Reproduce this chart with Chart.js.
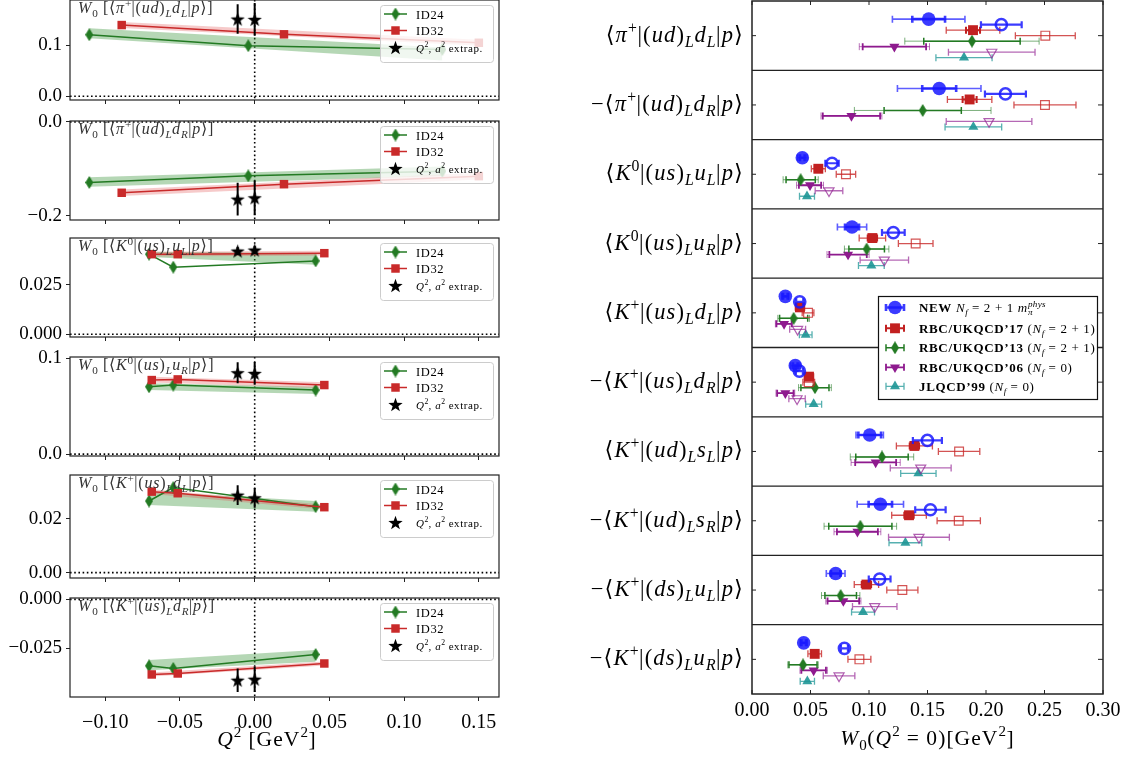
<!DOCTYPE html>
<html>
<head>
<meta charset="utf-8">
<script src="https://cdn.jsdelivr.net/npm/chart.js@4.4.0/dist/chart.umd.min.js"></script>
<style>
  html, body { margin: 0; padding: 0; background: #fff; }
  #fig { position: relative; width: 1133px; height: 757px; overflow: hidden; }
  canvas { position: absolute; }
</style>
</head>
<body>
<div id="fig"></div>
<script>
const SERIF = '"Liberation Serif", "DejaVu Serif", serif';

// ---------- left column: W0 vs Q^2, one panel per matrix element ----------
const panelTitles = [
  'W_0 [⟨π^+|(ud)_Ld_L|p⟩]',
  'W_0 [⟨π^+|(ud)_Ld_R|p⟩]',
  'W_0 [⟨K^0|(us)_Lu_L|p⟩]',
  'W_0 [⟨K^0|(us)_Lu_R|p⟩]',
  'W_0 [⟨K^+|(us)_Ld_L|p⟩]',
  'W_0 [⟨K^+|(us)_Ld_R|p⟩]'
];
const q2Range = [-0.1236, 0.1635];
const q2Ticks = [-0.10, -0.05, 0.00, 0.05, 0.10, 0.15];
const q2TickLabels = ['−0.10', '−0.05', '0.00', '0.05', '0.10', '0.15'];
const panelYRange = [[-0.0073, 0.189], [-0.209, 0.002], [-0.0014, 0.0488], [-0.002, 0.1014], [-0.002, 0.0364], [-0.0498, 0.0007]];
const panelYTicks = [[0, 0.1], [-0.2, 0], [0, 0.025], [0, 0.1], [0, 0.02], [-0.025, 0]];
const panelYTickLabels = [['0.0', '0.1'], ['−0.2', '0.0'], ['0.000', '0.025'], ['0.0', '0.1'], ['0.00', '0.02'], ['−0.025', '0.000']];

const id24Q2 = [
  [-0.1107, -0.0043, 0.1256], [-0.1107, -0.0043, 0.1256],
  [-0.0707, -0.0545, 0.0408], [-0.0707, -0.0545, 0.0408],
  [-0.0707, -0.0545, 0.0408], [-0.0707, -0.0545, 0.0408]
];
const id24W0 = [
  [0.1208, 0.0992, 0.092], [-0.129, -0.1149, -0.105],
  [0.0406, 0.034, 0.0372], [0.0703, 0.0721, 0.0669],
  [0.0267, 0.0317, 0.0246], [-0.0339, -0.0352, -0.0281]
];
const id24BandLo = [[0.1137, 0.070], [-0.138, -0.115], [0.0392, 0.0352], [0.067, 0.0627], [0.0252, 0.0227], [-0.0361, -0.0318]];
const id24BandHi = [[0.1333, 0.096], [-0.118, -0.095], [0.0418, 0.0412], [0.074, 0.0703], [0.0302, 0.0267], [-0.0309, -0.0258]];

const id32Q2 = [
  [-0.089, 0.0196, 0.150], [-0.089, 0.0196, 0.150],
  [-0.0689, -0.0515, 0.0466], [-0.0689, -0.0515, 0.0466],
  [-0.0689, -0.0515, 0.0466], [-0.0689, -0.0515, 0.0466]
];
const id32W0 = [
  [0.1398, 0.1216, 0.105], [-0.151, -0.1326, -0.1155],
  [0.0406, 0.0406, 0.0411], [0.0773, 0.078, 0.0721],
  [0.0302, 0.0296, 0.0244], [-0.0383, -0.0378, -0.0327]
];
const id32BandLo = [[0.134, 0.099], [-0.158, -0.1225], [0.0394, 0.0399], [0.0748, 0.0691], [0.0293, 0.0235], [-0.0393, -0.0337]];
const id32BandHi = [[0.146, 0.111], [-0.144, -0.1085], [0.0418, 0.0423], [0.0808, 0.0751], [0.0311, 0.0253], [-0.0373, -0.0317]];

const extrapQ2 = [-0.0114, 0.0];
const extrapW0 = [[0.1516, 0.151], [-0.1645, -0.1617], [0.0422, 0.0427], [0.085, 0.0843], [0.0289, 0.0279], [-0.0412, -0.0407]];
const extrapErr = [[0.029, 0.032], [0.035, 0.037], [0.002, 0.002], [0.011, 0.012], [0.0037, 0.0037], [0.006, 0.0065]];

// ---------- right column: W0(Q^2=0) comparison ----------
const rowLabels = [
  '⟨π^+|(ud)_Ld_L|p⟩',
  '−⟨π^+|(ud)_Ld_R|p⟩',
  '⟨K^0|(us)_Lu_L|p⟩',
  '⟨K^0|(us)_Lu_R|p⟩',
  '⟨K^+|(us)_Ld_L|p⟩',
  '−⟨K^+|(us)_Ld_R|p⟩',
  '⟨K^+|(ud)_Ls_L|p⟩',
  '−⟨K^+|(ud)_Ls_R|p⟩',
  '−⟨K^+|(ds)_Lu_L|p⟩',
  '−⟨K^+|(ds)_Lu_R|p⟩'
];
const w0Ticks = [0, 0.05, 0.10, 0.15, 0.20, 0.25, 0.30];
const w0TickLabels = ['0.00', '0.05', '0.10', '0.15', '0.20', '0.25', '0.30'];

const newVal = [0.151, 0.160, 0.043, 0.0855, 0.0285, 0.037, 0.1006, 0.1097, 0.0715, 0.0442];
const newErrIn = [0.014, 0.0145, 0.002, 0.006, 0.002, 0.002, 0.0097, 0.010, 0.004, 0.002];
const newErrOut = [0.031, 0.0357, 0.004, 0.0125, 0.003, 0.004, 0.0117, 0.0198, 0.008, 0.003];
const newAltVal = [0.2131, 0.2166, 0.0684, 0.1208, 0.0408, 0.0405, 0.1499, 0.1525, 0.1091, 0.079];
const newAltErr = [0.0174, 0.0175, 0.0057, 0.0097, 0.003, 0.003, 0.0124, 0.013, 0.0093, 0.003];
const rbc17Val = [0.1889, 0.186, 0.0567, 0.1029, 0.041, 0.0487, 0.1388, 0.1342, 0.0978, 0.0536];
const rbc17ErrIn = [0.006, 0.006, 0.003, 0.004, 0.002, 0.002, 0.004, 0.004, 0.004, 0.002];
const rbc17ErrOut = [0.0229, 0.019, 0.006, 0.0113, 0.004, 0.004, 0.0154, 0.0148, 0.0104, 0.0058];
const rbc17AltVal = [0.2507, 0.2504, 0.0803, 0.1399, 0.0479, 0.0485, 0.177, 0.1767, 0.1285, 0.0918];
const rbc17AltErr = [0.0256, 0.0265, 0.0083, 0.0148, 0.005, 0.005, 0.0177, 0.0185, 0.0133, 0.0098];
const rbc13Val = [0.188, 0.1459, 0.0416, 0.098, 0.0356, 0.0538, 0.1111, 0.0926, 0.0758, 0.0436];
const rbc13ErrIn = [0.0412, 0.033, 0.0125, 0.0152, 0.012, 0.012, 0.0224, 0.027, 0.0135, 0.012];
const rbc13ErrOut = [0.0574, 0.0584, 0.015, 0.019, 0.0135, 0.014, 0.0271, 0.031, 0.0164, 0.013];
const rbc06Val = [0.1217, 0.085, 0.0496, 0.0821, 0.0274, 0.0285, 0.1057, 0.0901, 0.0781, 0.0527];
const rbc06ErrIn = [0.0271, 0.0245, 0.0095, 0.016, 0.0065, 0.007, 0.0175, 0.0175, 0.0135, 0.0105];
const rbc06ErrOut = [0.030, 0.026, 0.0115, 0.018, 0.0074, 0.008, 0.021, 0.020, 0.015, 0.0117];
const rbc06AltVal = [0.2049, 0.2026, 0.0658, 0.1131, 0.039, 0.0385, 0.1442, 0.1427, 0.1049, 0.0744];
const rbc06AltErr = [0.037, 0.0366, 0.0118, 0.0207, 0.0068, 0.007, 0.026, 0.026, 0.019, 0.0135];
const jlqcdVal = [0.1812, 0.1892, 0.047, 0.102, 0.0459, 0.0527, 0.1422, 0.1311, 0.0949, 0.0473];
const jlqcdErr = [0.024, 0.0242, 0.0064, 0.011, 0.0054, 0.0068, 0.0151, 0.014, 0.0098, 0.0061];

const legendTexts = [
  '\\b{NEW} N_f = 2 + 1 m_π^{phys}',
  '\\b{RBC/UKQCD’17} (N_f = 2 + 1)',
  '\\b{RBC/UKQCD’13} (N_f = 2 + 1)',
  '\\b{RBC/UKQCD’06} (N_f = 0)',
  '\\b{JLQCD’99} (N_f = 0)'
];

// ---------- small TeX-ish text renderer ----------
function texRuns(src) {
  const runs = [];
  let i = 0;
  const group = () => {
    if (src[i] !== '{') return src[i++];
    let d = 0, j = i;
    do { if (src[j] === '{') d++; else if (src[j] === '}') d--; j++; } while (d > 0);
    const g = src.slice(i + 1, j - 1);
    i = j;
    return g;
  };
  while (i < src.length) {
    const c = src[i];
    if (c === '_' || c === '^') { i++; runs.push({ t: group(), lvl: c === '_' ? -1 : 1, st: 'm' }); }
    else if (c === '\\') { const st = src[i + 1]; i += 2; runs.push({ t: group(), lvl: 0, st }); }
    else { runs.push({ t: c, lvl: 0, st: 'm' }); i++; }
  }
  return runs;
}

// math text is set a bit looser, closer to Computer Modern widths
function drawTeX(ctx, src, x, y, size, align, color) {
  const items = [];
  const gap = size * 0.05;
  let cx = 0, scriptStart = 0, prevLvl = 0;
  for (const r of texRuns(src)) {
    const sz = r.lvl ? size * 0.7 : size;
    const dy = r.lvl < 0 ? size * 0.22 : r.lvl > 0 ? -size * 0.4 : 0;
    let prevEnd = null;
    if (r.lvl && prevLvl && r.lvl !== prevLvl) { prevEnd = cx; cx = scriptStart; }
    else if (r.lvl) scriptStart = cx;
    for (const ch of r.t) {
      const it = r.st === 'm' && /[A-Za-z\u0370-\u03ff]/.test(ch);
      const font = (r.st === 'b' ? 'bold ' : it ? 'italic ' : '') + sz + 'px ' + SERIF;
      ctx.font = font;
      items.push({ ch, font, x: cx, dy });
      cx += ctx.measureText(ch).width + (r.lvl ? gap * 0.5 : gap);
    }
    if (prevEnd !== null) cx = Math.max(cx, prevEnd);
    prevLvl = r.lvl;
  }
  const x0 = align === 'right' ? x - cx : align === 'center' ? x - cx / 2 : x;
  ctx.save();
  ctx.fillStyle = color || '#000';
  ctx.textBaseline = 'alphabetic';
  ctx.textAlign = 'left';
  items.forEach(it => { ctx.font = it.font; ctx.fillText(it.ch, x0 + it.x, y + it.dy); });
  ctx.restore();
}

// ---------- markers ----------
function diamondImg(w, h, color) {
  const c = document.createElement('canvas');
  c.width = w; c.height = h;
  const g = c.getContext('2d');
  g.fillStyle = color;
  g.beginPath(); g.moveTo(w / 2, 0); g.lineTo(w, h / 2); g.lineTo(w / 2, h); g.lineTo(0, h / 2); g.closePath(); g.fill();
  return c;
}
function starImg(s, color) {
  const c = document.createElement('canvas');
  c.width = c.height = s;
  const g = c.getContext('2d');
  g.fillStyle = color;
  g.beginPath();
  for (let k = 0; k < 10; k++) {
    const r = k % 2 ? s * 0.2 : s * 0.5;
    const ang = -Math.PI / 2 + k * Math.PI / 5;
    g.lineTo(s / 2 + r * Math.cos(ang), s / 2 + r * Math.sin(ang) + s * 0.05);
  }
  g.closePath(); g.fill();
  return c;
}

const GREEN = '#237a23';
const RED = '#c92a2a';
const greenDiamond = diamondImg(8, 13, GREEN);
const star = starImg(15, '#000');

function drawErrorBars(chart, di) {
  const ds = chart.data.datasets[di];
  if (!ds.errBars) return;
  const meta = chart.getDatasetMeta(di);
  const { ctx, chartArea: a } = chart;
  const horiz = ds.errAxis === 'x';
  const sc = horiz ? chart.scales.x : chart.scales.y;
  ctx.save();
  ctx.beginPath(); ctx.rect(a.left, a.top - 1, a.right - a.left, a.bottom - a.top + 2); ctx.clip();
  ds.errBars.forEach(bar => {
    ctx.strokeStyle = bar.color; ctx.lineWidth = bar.width;
    ctx.beginPath();
    meta.data.forEach((el, j) => {
      const e = bar.errs[j];
      if (!e) return;
      const c = horiz ? ds.data[j].x : ds.data[j].y;
      const p1 = sc.getPixelForValue(c - e), p2 = sc.getPixelForValue(c + e);
      if (horiz) {
        ctx.moveTo(p1, el.y); ctx.lineTo(p2, el.y);
        if (bar.cap) {
          ctx.moveTo(p1, el.y - bar.cap); ctx.lineTo(p1, el.y + bar.cap);
          ctx.moveTo(p2, el.y - bar.cap); ctx.lineTo(p2, el.y + bar.cap);
        }
      } else {
        ctx.moveTo(el.x, p1); ctx.lineTo(el.x, p2);
      }
    });
    ctx.stroke();
  });
  ctx.restore();
}

function marker(ctx, style, radius, rotation, fill, stroke, bw, x, y) {
  ctx.save();
  ctx.fillStyle = fill; ctx.strokeStyle = stroke; ctx.lineWidth = bw || 1;
  Chart.helpers.drawPoint(ctx, { pointStyle: style, radius, rotation, borderWidth: bw }, x, y);
  ctx.restore();
}

const fig = document.getElementById('fig');
function addCanvas(left, top, w, h) {
  const c = document.createElement('canvas');
  c.width = w; c.height = h;
  c.style.left = left + 'px'; c.style.top = top + 'px';
  c.style.width = w + 'px'; c.style.height = h + 'px';
  fig.appendChild(c);
  return c;
}

const pts = (xs, ys) => xs.map((x, i) => ({ x, y: ys[i] }));
const band = (xs, ends) => [{ x: xs[0], y: ends[0] }, { x: xs[xs.length - 1], y: ends[1] }];
const noPad = s => { s.paddingTop = 0; s.paddingBottom = 0; s.paddingLeft = 0; s.paddingRight = 0; };

// ---------- left panels ----------
const panelTop = [0, 121, 238, 357, 475, 598];
const panelBottom = [100, 220, 337, 456, 578, 697];
const PAD_TOP = 12;

function panelPlugin(p) {
  return {
    id: 'panel' + p,
    beforeDatasetsDraw(chart) {
      const { ctx, chartArea: a, scales: { x, y } } = chart;
      const y0 = y.getPixelForValue(0), x0 = x.getPixelForValue(0);
      ctx.save();
      ctx.strokeStyle = '#000'; ctx.lineWidth = 1.6; ctx.setLineDash([1.6, 2.6]);
      ctx.beginPath();
      ctx.moveTo(a.left, y0); ctx.lineTo(a.right, y0);
      ctx.moveTo(x0, a.top); ctx.lineTo(x0, a.bottom);
      ctx.stroke();
      ctx.restore();
    },
    beforeDatasetDraw(chart, args) { drawErrorBars(chart, args.index); },
    afterDatasetsDraw(chart) {
      const { ctx, chartArea: a } = chart;
      drawTeX(ctx, panelTitles[p], 78, a.top + 13, 16, 'left', '#333');
      // legend
      ctx.save();
      ctx.fillStyle = 'rgba(255,255,255,0.8)'; ctx.strokeStyle = '#cccccc'; ctx.lineWidth = 1;
      ctx.beginPath(); ctx.roundRect(380.5, a.top + 5.5, 113, 57, 3); ctx.fill(); ctx.stroke();
      const rows = [a.top + 14, a.top + 30.5, a.top + 47.5];
      ctx.lineWidth = 1.5;
      ctx.strokeStyle = GREEN; ctx.beginPath(); ctx.moveTo(384, rows[0]); ctx.lineTo(407, rows[0]); ctx.stroke();
      ctx.strokeStyle = RED; ctx.beginPath(); ctx.moveTo(384, rows[1]); ctx.lineTo(407, rows[1]); ctx.stroke();
      ctx.restore();
      marker(ctx, greenDiamond, 6, 0, GREEN, GREEN, 0, 395.5, rows[0]);
      marker(ctx, 'rect', 6, 0, RED, RED, 0, 395.5, rows[1]);
      marker(ctx, star, 6, 0, '#000', '#000', 0, 395.5, rows[2]);
      drawTeX(ctx, '\\r{ID24}', 416, rows[0] + 4.5, 12.5, 'left', '#000');
      drawTeX(ctx, '\\r{ID32}', 416, rows[1] + 4.5, 12.5, 'left', '#000');
      drawTeX(ctx, 'Q^2, a^2 \\r{extrap.}', 416, rows[2] + 4, 11, 'left', '#000');
      // frame
      ctx.save();
      ctx.strokeStyle = '#222'; ctx.lineWidth = 1.2;
      ctx.strokeRect(a.left, a.top, a.right - a.left, a.bottom - a.top);
      ctx.restore();
      if (p === 5) drawTeX(ctx, 'Q^2 [\\r{GeV}^2]', 267, chart.height - 11, 21.5, 'center', '#000');
    }
  };
}

for (let p = 0; p < 6; p++) {
  const last = p === 5;
  const h = panelBottom[p] - panelTop[p];
  const xAxisH = last ? 60 : 10;
  const cv = addCanvas(0, panelTop[p] - PAD_TOP, 510, h + PAD_TOP + xAxisH);
  new Chart(cv, {
    type: 'scatter',
    data: {
      datasets: [
        { data: band(id24Q2[p], id24BandLo[p]), showLine: true, pointRadius: 0, borderColor: 'rgba(0,0,0,0)', borderWidth: 1, fill: false, order: 6 },
        { data: band(id24Q2[p], id24BandHi[p]), showLine: true, pointRadius: 0, borderColor: 'rgba(0,0,0,0)', borderWidth: 1, fill: '-1', backgroundColor: 'rgba(60,150,60,0.38)', order: 5 },
        { data: band(id32Q2[p], id32BandLo[p]), showLine: true, pointRadius: 0, borderColor: 'rgba(0,0,0,0)', borderWidth: 1, fill: false, order: 4 },
        { data: band(id32Q2[p], id32BandHi[p]), showLine: true, pointRadius: 0, borderColor: 'rgba(0,0,0,0)', borderWidth: 1, fill: '-1', backgroundColor: 'rgba(225,80,80,0.3)', order: 3 },
        { label: 'ID24', data: pts(id24Q2[p], id24W0[p]), showLine: true, borderColor: GREEN, borderWidth: 1.5,
          pointStyle: greenDiamond, pointRadius: 6, backgroundColor: GREEN, order: 2 },
        { label: 'ID32', data: pts(id32Q2[p], id32W0[p]), showLine: true, borderColor: RED, borderWidth: 1.5,
          pointStyle: 'rect', pointRadius: 6, pointBackgroundColor: RED, pointBorderWidth: 0, order: 1 },
        { label: 'extrap', data: pts(extrapQ2, extrapW0[p]), showLine: false, pointStyle: star, pointRadius: 7, order: 0,
          errAxis: 'y', errBars: [{ errs: extrapErr[p], width: 2, color: '#000' }] }
      ]
    },
    options: {
      responsive: false, animation: false, events: [], devicePixelRatio: 1,
      layout: { autoPadding: false, padding: { top: PAD_TOP, left: 0, right: 11, bottom: 0 } },
      plugins: { legend: { display: false }, tooltip: { enabled: false } },
      scales: {
        x: {
          type: 'linear', min: q2Range[0], max: q2Range[1],
          afterBuildTicks: s => { s.ticks = q2Ticks.map(v => ({ value: v })); },
          afterFit: s => { s.height = xAxisH; noPad(s); },
          grid: { drawOnChartArea: false, drawTicks: true, tickLength: 4, tickColor: '#222', tickWidth: 1 },
          border: { display: false },
          ticks: { display: last, autoSkip: false, maxRotation: 0, padding: 10, color: '#000',
                   font: { family: SERIF, size: 20 }, callback: (v, i) => q2TickLabels[i] }
        },
        y: {
          type: 'linear', min: panelYRange[p][0], max: panelYRange[p][1],
          afterBuildTicks: s => { s.ticks = panelYTicks[p].map(v => ({ value: v })); },
          afterFit: s => { s.width = 70; noPad(s); },
          grid: { drawOnChartArea: false, drawTicks: true, tickLength: 4, tickColor: '#222', tickWidth: 1 },
          border: { display: false },
          ticks: { autoSkip: false, padding: 4, color: '#000', font: { family: SERIF, size: 19 },
                   callback: (v, i) => panelYTickLabels[p][i] }
        }
      }
    },
    plugins: [panelPlugin(p)]
  });
}

// ---------- right panel ----------
const BLUE = 'rgba(25,25,255,0.85)';
const PURPLE = '#8e1a8e';
const TEAL = 'rgba(30,150,150,0.9)';
const ROW_PX = 69.35;
const rightSeries = [
  { vals: newVal, shift: -16.5, style: 'circle', r: 6.8, rot: 0, bg: BLUE, bd: BLUE, bw: 0,
    errs: [[newErrOut, 1.6, 'rgba(25,25,255,0.7)'], [newErrIn, 2.6, BLUE]] },
  { vals: newAltVal, shift: -11, style: 'circle', r: 5.6, rot: 0, bg: 'rgba(0,0,0,0)', bd: BLUE, bw: 2.5,
    errs: [[newAltErr, 2.2, BLUE]] },
  { vals: rbc17Val, shift: -5.5, style: 'rect', r: 7, rot: 0, bg: '#c22020', bd: '#c22020', bw: 0,
    errs: [[rbc17ErrOut, 1.3, 'rgba(200,35,35,0.8)'], [rbc17ErrIn, 2, '#c22020']] },
  { vals: rbc17AltVal, shift: 0, style: 'rect', r: 6.2, rot: 0, bg: 'rgba(0,0,0,0)', bd: 'rgba(200,40,40,0.8)', bw: 1.2,
    errs: [[rbc17AltErr, 1.3, 'rgba(200,40,40,0.8)']] },
  { vals: rbc13Val, shift: 5.5, style: greenDiamond, r: 6, rot: 0, bg: GREEN, bd: GREEN, bw: 0,
    errs: [[rbc13ErrOut, 1, 'rgba(35,122,35,0.6)'], [rbc13ErrIn, 1.5, GREEN]] },
  { vals: rbc06Val, shift: 11, style: 'triangle', r: 5.8, rot: 180, bg: PURPLE, bd: PURPLE, bw: 0,
    errs: [[rbc06ErrOut, 1, 'rgba(142,26,142,0.6)'], [rbc06ErrIn, 1.8, PURPLE]] },
  { vals: rbc06AltVal, shift: 16.5, style: 'triangle', r: 5.8, rot: 180, bg: 'rgba(0,0,0,0)', bd: 'rgba(150,40,150,0.75)', bw: 1.2,
    errs: [[rbc06AltErr, 1.3, 'rgba(150,40,150,0.7)']] },
  { vals: jlqcdVal, shift: 22, style: 'triangle', r: 5.8, rot: 0, bg: TEAL, bd: TEAL, bw: 0,
    errs: [[jlqcdErr, 1.3, 'rgba(30,150,150,0.75)']] }
];
const legendSeries = [0, 2, 4, 5, 7];

const rightPlugin = {
  id: 'rightDeco',
  beforeDatasetsDraw(chart) {
    const { ctx, chartArea: a, scales: { x, y } } = chart;
    ctx.save();
    ctx.strokeStyle = '#222'; ctx.lineWidth = 1.3;
    ctx.beginPath();
    for (let i = 1; i < rowLabels.length; i++) {
      const py = y.getPixelForValue(i - 0.5);
      ctx.moveTo(a.left, py); ctx.lineTo(a.right, py);
    }
    ctx.stroke();
    ctx.lineWidth = 1; ctx.beginPath();
    rowLabels.forEach((_, i) => {
      const py = y.getPixelForValue(i);
      ctx.moveTo(a.left, py); ctx.lineTo(a.left + 4, py);
      ctx.moveTo(a.right, py); ctx.lineTo(a.right - 5, py);
    });
    w0Ticks.forEach(v => {
      const px = x.getPixelForValue(v);
      ctx.moveTo(px, a.top); ctx.lineTo(px, a.top + 4);
      ctx.moveTo(px, a.bottom); ctx.lineTo(px, a.bottom - 4);
    });
    ctx.stroke();
    ctx.restore();
  },
  beforeDatasetDraw(chart, args) { drawErrorBars(chart, args.index); },
  afterDatasetsDraw(chart) {
    const { ctx, chartArea: a, scales: { y } } = chart;
    ctx.save();
    ctx.strokeStyle = '#222'; ctx.lineWidth = 1.5;
    ctx.strokeRect(a.left, a.top, a.right - a.left, a.bottom - a.top);
    ctx.restore();
    rowLabels.forEach((lab, i) => drawTeX(ctx, lab, a.left - 8, y.getPixelForValue(i) + 6, 22.5, 'right', '#000'));
    // legend
    const bx = 318.5, by = 296.5, bw = 219, bh = 103;
    ctx.save();
    ctx.fillStyle = '#fff'; ctx.strokeStyle = '#111'; ctx.lineWidth = 1.2;
    ctx.fillRect(bx, by, bw, bh); ctx.strokeRect(bx, by, bw, bh);
    ctx.restore();
    const ly = [307.5, 328.3, 347.8, 367.3, 386.3];
    legendSeries.forEach((si, k) => {
      const s = rightSeries[si];
      const mx = 335, my = ly[k];
      const last = s.errs[s.errs.length - 1];
      ctx.save();
      ctx.strokeStyle = last[2]; ctx.lineWidth = last[1];
      ctx.beginPath();
      ctx.moveTo(mx - 9, my); ctx.lineTo(mx + 9, my);
      ctx.moveTo(mx - 9, my - 3.5); ctx.lineTo(mx - 9, my + 3.5);
      ctx.moveTo(mx + 9, my - 3.5); ctx.lineTo(mx + 9, my + 3.5);
      ctx.stroke();
      ctx.restore();
      marker(ctx, s.style, s.r, s.rot, s.bg, s.bd, s.bw, mx, my);
      drawTeX(ctx, legendTexts[k], 359, my + 4.5, 13, 'left', '#000');
    });
    drawTeX(ctx, 'W_0(Q^2 = 0)[\\r{GeV}^2]', (a.left + a.right) / 2, 745, 21.5, 'center', '#000');
  }
};

const rcv = addCanvas(560, 0, 573, 757);
new Chart(rcv, {
  type: 'scatter',
  data: {
    datasets: rightSeries.map((s, k) => ({
      data: s.vals.map((v, i) => ({ x: v, y: i + s.shift / ROW_PX })),
      showLine: false,
      pointStyle: s.style, pointRadius: s.r, pointRotation: s.rot,
      pointBackgroundColor: s.bg, pointBorderColor: s.bd, pointBorderWidth: s.bw,
      order: k,
      errAxis: 'x',
      errBars: s.errs.map(e => ({ errs: e[0], width: e[1], color: e[2], cap: 3.5 }))
    }))
  },
  options: {
    responsive: false, animation: false, events: [], devicePixelRatio: 1,
    layout: { autoPadding: false, padding: { top: 1, left: 0, right: 30, bottom: 0 } },
    plugins: { legend: { display: false }, tooltip: { enabled: false } },
    scales: {
      x: {
        type: 'linear', min: 0, max: 0.3,
        afterBuildTicks: s => { s.ticks = w0Ticks.map(v => ({ value: v })); },
        afterFit: s => { s.height = 63; noPad(s); },
        grid: { display: false, drawTicks: false },
        border: { display: false },
        ticks: { autoSkip: false, maxRotation: 0, padding: 5, color: '#000',
                 font: { family: SERIF, size: 20 }, callback: (v, i) => w0TickLabels[i] }
      },
      y: {
        type: 'linear', min: -0.5, max: 9.5, reverse: true,
        afterFit: s => { s.width = 192; noPad(s); },
        grid: { display: false, drawTicks: false },
        border: { display: false },
        ticks: { display: false }
      }
    }
  },
  plugins: [rightPlugin]
});
</script>
</body>
</html>
